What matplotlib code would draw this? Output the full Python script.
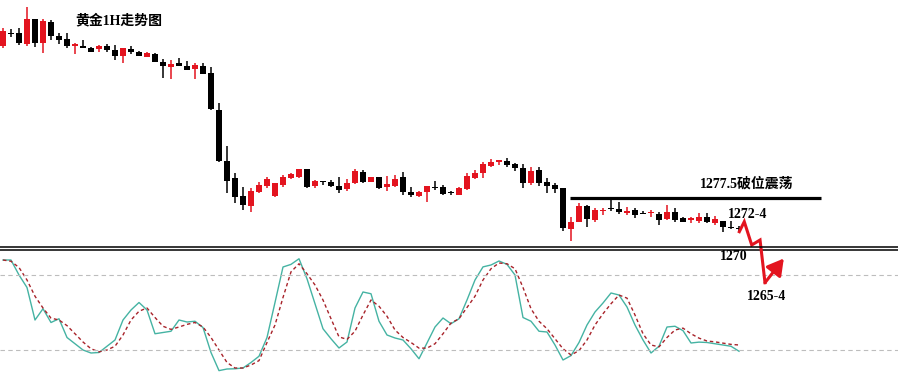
import numpy as np
import matplotlib
matplotlib.use("Agg")
import matplotlib.pyplot as plt

# 黄金 1H candles (price), oldest -> newest
opens = [1292.7, 1294.0, 1294.0, 1292.9, 1295.4, 1293.0, 1295.1, 1293.7, 1293.4, 1292.7,
         1292.7, 1292.5, 1292.4, 1292.7, 1292.3, 1291.7, 1292.4, 1292.1, 1291.6, 1291.9,
         1291.1, 1290.6, 1291.0, 1290.7, 1290.4, 1290.7, 1290.0, 1286.3, 1281.2, 1279.5,
         1277.7, 1276.7, 1278.1, 1278.7, 1277.7, 1278.8, 1279.5, 1279.6, 1280.4, 1278.7,
         1279.1, 1279.1, 1278.7, 1278.4, 1279.0, 1280.1, 1279.1, 1279.6, 1278.6, 1278.7,
         1279.6, 1278.1, 1277.7, 1278.1, 1278.6, 1278.6, 1278.0, 1277.8, 1278.4, 1279.5,
         1280.0, 1280.7, 1281.1, 1281.2, 1280.9, 1280.5, 1279.0, 1280.3, 1279.1, 1278.8,
         1278.5, 1274.4, 1275.1, 1276.7, 1275.3, 1276.2, 1276.4, 1276.4, 1276.0, 1276.3,
         1276.0, 1276.0, 1275.9, 1275.4, 1276.1, 1275.5, 1275.3, 1275.2, 1275.6, 1275.0,
         1275.2, 1274.6, 1274.4]
highs = [1294.5, 1294.4, 1294.5, 1296.6, 1295.4, 1295.4, 1295.3, 1294.0, 1294.0, 1293.0,
         1293.3, 1292.6, 1292.8, 1292.9, 1292.8, 1292.5, 1292.7, 1292.2, 1292.1, 1292.0,
         1291.4, 1291.3, 1291.5, 1291.2, 1291.0, 1291.0, 1290.6, 1287.0, 1282.7, 1280.0,
         1278.6, 1278.5, 1279.1, 1279.6, 1279.0, 1279.8, 1280.0, 1280.4, 1280.4, 1279.3,
         1279.1, 1279.3, 1279.6, 1279.4, 1280.4, 1280.3, 1279.6, 1279.6, 1279.7, 1279.8,
         1280.1, 1278.6, 1278.2, 1278.7, 1279.2, 1278.8, 1278.2, 1278.6, 1280.0, 1280.3,
         1281.1, 1281.4, 1281.3, 1281.5, 1281.0, 1280.9, 1280.6, 1280.6, 1279.5, 1279.0,
         1278.5, 1275.6, 1277.0, 1276.8, 1276.5, 1276.5, 1277.3, 1277.1, 1276.6, 1276.5,
         1276.2, 1276.3, 1276.1, 1276.8, 1276.5, 1275.6, 1275.6, 1276.0, 1276.0, 1275.7,
         1275.2, 1275.2, 1274.7]
lows = [1292.5, 1293.6, 1292.8, 1292.7, 1292.6, 1292.0, 1293.3, 1292.9, 1292.5, 1291.9,
        1292.5, 1292.1, 1292.1, 1292.1, 1291.3, 1291.0, 1291.9, 1291.7, 1291.6, 1291.1,
        1289.5, 1289.4, 1290.7, 1290.3, 1289.4, 1289.9, 1286.3, 1281.1, 1278.0, 1277.0,
        1276.3, 1276.1, 1278.0, 1278.5, 1277.6, 1278.6, 1279.4, 1279.5, 1278.5, 1278.5,
        1278.8, 1278.6, 1278.0, 1278.2, 1278.9, 1279.0, 1279.1, 1278.4, 1278.2, 1278.6,
        1277.8, 1277.6, 1277.6, 1277.1, 1278.3, 1277.8, 1277.8, 1277.8, 1278.3, 1279.4,
        1279.5, 1280.6, 1280.8, 1280.6, 1280.2, 1278.5, 1278.8, 1278.7, 1278.0, 1278.0,
        1274.2, 1273.2, 1275.1, 1274.6, 1275.1, 1275.8, 1276.2, 1275.9, 1275.8, 1275.5,
        1275.9, 1275.6, 1274.8, 1275.3, 1275.1, 1275.1, 1275.0, 1275.0, 1275.0, 1274.8,
        1274.1, 1274.4, 1274.1]
closes = [1294.2, 1293.9, 1293.0, 1295.4, 1293.0, 1295.2, 1293.7, 1293.3, 1292.7, 1292.9,
          1292.5, 1292.1, 1292.7, 1292.3, 1291.7, 1292.5, 1292.1, 1291.7, 1292.0, 1291.1,
          1290.7, 1290.9, 1290.7, 1290.3, 1290.8, 1289.9, 1286.4, 1281.2, 1279.2, 1277.6,
          1276.8, 1278.2, 1278.8, 1279.4, 1279.0, 1279.6, 1279.9, 1280.4, 1278.6, 1279.2,
          1279.1, 1278.7, 1278.3, 1279.0, 1280.2, 1279.1, 1279.6, 1278.5, 1278.9, 1279.4,
          1278.1, 1277.8, 1278.1, 1278.7, 1278.5, 1277.9, 1278.0, 1278.5, 1279.7, 1280.0,
          1280.9, 1281.1, 1281.3, 1280.8, 1280.5, 1279.0, 1280.2, 1279.0, 1278.7, 1278.4,
          1274.5, 1275.1, 1276.7, 1275.4, 1276.3, 1276.3, 1276.4, 1276.1, 1276.2, 1275.8,
          1275.9, 1276.1, 1275.3, 1276.1, 1275.3, 1275.1, 1275.5, 1275.6, 1275.1, 1275.4,
          1274.6, 1274.5, 1274.4]

# stochastic lines (0-100)
k_line = [92, 92, 80, 70, 44, 53, 42, 45, 30, 25,
          20, 17.6, 18, 23, 28, 44, 52, 58, 52, 33,
          34, 35, 44, 42.4, 43, 38, 18, 3.5, 4.8, 5,
          5.6, 10, 15, 30, 58, 86.4, 88.5, 93, 77, 57,
          37, 29, 21.6, 26.4, 53.6, 66.4, 65, 43, 32, 29.6,
          28, 21, 13, 25.6, 38.4, 45.6, 41, 45, 60, 76,
          86.5, 88, 91.2, 88.5, 80, 46, 43, 35, 34.4, 24,
          12, 15.5, 26, 40, 50.4, 57.6, 65.6, 64, 54.4, 40,
          28, 17.6, 23, 38.4, 39, 35.5, 25.6, 26.3, 26, 25,
          24, 23, 19]
d_line = [92, 91, 86, 76, 63, 53.6, 45.5, 44, 39.5, 33,
          26.4, 21, 18.5, 20, 23, 32, 44, 51, 53.6, 46,
          39, 36.5, 38.4, 40.5, 42, 38.4, 30, 20, 10, 5.6,
          5.6, 8, 11.5, 26, 40, 62, 82.5, 89, 81, 72,
          60, 45, 30.5, 28.5, 35, 48, 60, 55, 47, 36,
          30, 26, 21.5, 21.5, 25, 33, 41.6, 45, 54, 63,
          76, 85, 89.6, 89, 85, 70, 53, 43, 37, 29,
          21, 16, 19.5, 28, 40, 49, 57, 64, 61.5, 48,
          33, 24, 22.5, 30, 36, 37.5, 33, 29.5, 27.2, 26.5,
          25.5, 24.5, 24]
levels = [80, 20]

RED = '#e3141f'
font_mix = ['Liberation Serif', 'Noto Sans CJK SC', 'DejaVu Sans']

fig = plt.figure(figsize=(8.98, 3.72), dpi=100, facecolor='white')
ax1 = fig.add_axes([0, 1 - 247 / 372, 1, 247 / 372])
ax2 = fig.add_axes([0, 0, 1, 122.5 / 372])
ax1.set_zorder(2)
ax1.patch.set_alpha(0)

o = np.array(opens); h = np.array(highs); l = np.array(lows); c = np.array(closes)
x = np.arange(len(o))
cols = np.where(c > o, RED, 'black')
body = np.maximum(np.abs(c - o), 0.12)
ax1.vlines(x, l, h, colors=cols, lw=1.1)
ax1.bar(x, body, bottom=np.minimum(o, c), width=0.72, color=cols, linewidth=0)

ax1.set_xlim(-0.375, 111.875)
ax1.set_ylim(1272.6, 1297.3)

# annotations
ax1.text(9.1, 1295.2, '黄金1H走势图', family=font_mix, fontsize=10, fontweight='bold',
         ha='left', va='center')
ax1.hlines(1277.5, 70.9, 102.25, colors='black', lw=2.3)
ax1.text(87.1, 1278.9, '1277.5破位震荡', family=font_mix, fontsize=10, fontweight='bold',
         ha='left', va='center')
ax1.text(90.6, 1275.85, '1272-4', family=font_mix, fontsize=10, fontweight='bold',
         ha='left', va='center')
ax1.text(91.3, 1271.65, '1270', family=font_mix, fontsize=10, fontweight='bold',
         ha='center', va='center', clip_on=False)
ax1.text(95.45, 1267.65, '1265-4', family=font_mix, fontsize=10, fontweight='bold',
         ha='center', va='center', clip_on=False)

zx = [92.04, 92.66, 93.59, 94.63, 95.25]
zy = [1274.13, 1275.13, 1272.8, 1273.3, 1269.03]
ax1.plot(zx, zy, color=RED, lw=2.2, clip_on=False, solid_joinstyle='miter')
ax1.annotate('', xy=(97.6, 1271.45), xytext=(95.25, 1269.03), annotation_clip=False,
             arrowprops=dict(arrowstyle='-|>,head_length=0.7,head_width=0.4',
                             mutation_scale=14, color=RED, lw=2.2, shrinkA=0, shrinkB=0))

# oscillator panel
ax2.plot(x, k_line, color='#45b3a3', lw=1.0)
ax2.plot(x, d_line, color='#a8232a', lw=1.0, dashes=(2.5, 2))
for lv in levels:
    ax2.axhline(lv, color='#bdbdbd', lw=0.8, dashes=(4, 3))
ax2.set_xlim(-0.375, 111.875)
ax2.set_ylim(2.4, 100.4)

for ax in (ax1, ax2):
    ax.set_xticks([])
    ax.set_yticks([])
    for s in ax.spines.values():
        s.set_visible(False)
ax1.spines['bottom'].set_visible(True)
ax1.spines['bottom'].set_linewidth(1.1)
ax2.spines['top'].set_visible(True)
ax2.spines['top'].set_linewidth(1.1)

fig.savefig('out.png', dpi=100, facecolor='white')
